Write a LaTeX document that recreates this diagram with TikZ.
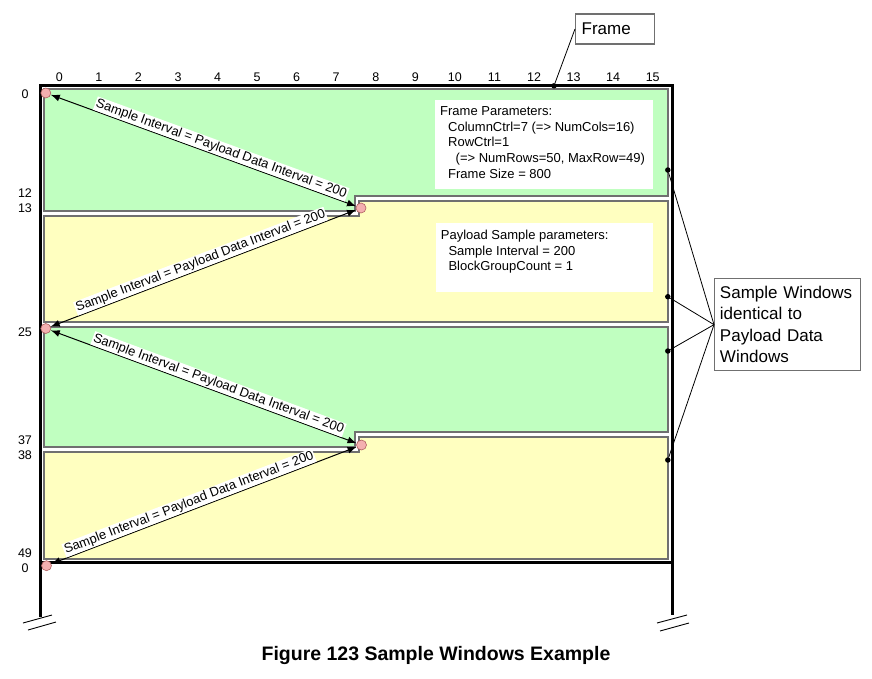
\documentclass[tikz,border=0pt]{standalone}
\usepackage{fontspec}
\setmainfont{Liberation Sans}
\usetikzlibrary{arrows.meta}

\definecolor{wingreen}{RGB}{192,255,192}
\definecolor{winyellow}{RGB}{255,255,192}
\definecolor{winedge}{RGB}{112,112,112}
\definecolor{dotfill}{RGB}{244,176,176}
\definecolor{dotedge}{RGB}{176,96,96}

\begin{document}
\begin{tikzpicture}[x=1pt,y=1pt,
  framebar/.style={line width=3pt, black},
  window/.style={draw=winedge, line width=1.8pt},
  endpoint/.style={circle, minimum size=10pt, inner sep=0pt, fill=dotfill, draw=dotedge, line width=0.6pt},
  interval/.style={{Latex[length=9pt,width=7pt]}-{Latex[length=9pt,width=7pt]}, line width=1pt},
  intlabel/.style={sloped, above, fill=white, inner sep=1pt, font=\fontsize{13}{15}\selectfont},
  idx/.style={font=\fontsize{12.5}{14}\selectfont, inner sep=0pt},
  pin/.style={circle, fill=black, minimum size=5.5pt, inner sep=0pt},
  callout/.style={draw=winedge, line width=1.3pt, fill=white, anchor=north west,
    font=\fontsize{17}{21.5}\selectfont, align=left},
  leader/.style={line width=0.8pt},
  parambox/.style={fill=white, anchor=north west, inner sep=0pt},
  paramtext/.style={anchor=north west, align=left, inner sep=0pt, font=\fontsize{13}{15.6}\selectfont},
  hatch/.style={line width=0.9pt},
]
\useasboundingbox (0,0) rectangle (872,-678);

% sample windows
\path[window, fill=wingreen] (44.3,-89.3) -- (667.8,-89.3) -- (667.8,-196) -- (355,-196)
  -- (355,-211) -- (44.3,-211) -- cycle;
\path[window, fill=winyellow] (44.3,-216) -- (359,-216) -- (359,-201) -- (667.8,-201)
  -- (667.8,-322) -- (44.3,-322) -- cycle;
\path[window, fill=wingreen] (44.3,-327) -- (667.8,-327) -- (667.8,-432) -- (355,-432)
  -- (355,-447) -- (44.3,-447) -- cycle;
\path[window, fill=winyellow] (44.3,-452) -- (359,-452) -- (359,-437) -- (667.8,-437)
  -- (667.8,-558.8) -- (44.3,-558.8) -- cycle;

% frame with its legs
\draw[framebar] (40.7,-617) -- (40.7,-85.8) -- (672.3,-85.8) -- (672.3,-615);
\draw[framebar] (40.7,-562.8) -- (672.3,-562.8);
\draw[hatch] (23,-623) -- (52,-615);
\draw[hatch] (28,-630) -- (56,-622);
\draw[hatch] (657,-623) -- (687,-615);
\draw[hatch] (660,-631) -- (689,-623);

% column indices
\foreach \c in {0,...,15}
  \node[idx] (col\c) at ({59.3+39.56*\c},-77.3) {\c};
% row indices
\foreach \n/\t/\y in {ra/0/93.8, rb/12/192.7, rc/13/208, rd/25/331.7,
                      re/37/440, rf/38/455, rg/49/553, rh/0/568}
  \node[idx] (\n) at (25,-\y) {\t};

% parameter boxes
\node[parambox, minimum width=218.5pt, minimum height=88.5pt] (fpbox) at (434.3,-100) {};
\node[paramtext] (fptext) at (440,-106.5)
  {Frame Parameters:\\
   \hspace*{8pt}ColumnCtrl=7 (=> NumCols=16)\\
   \hspace*{8pt}RowCtrl=1\\
   \hspace*{15.5pt}(=> NumRows=50, MaxRow=49)\\
   \hspace*{8pt}Frame Size = 800};
\node[parambox, minimum width=217pt, minimum height=69pt] (psbox) at (436,-223) {};
\node[paramtext] (pstext) at (440.7,-230)
  {Payload Sample parameters:\\
   \hspace*{7.6pt}Sample Interval = 200\\
   \hspace*{7.6pt}BlockGroupCount = 1};

% window start points
\node[endpoint] (s0) at (45.8,-93) {};
\node[endpoint] (s1) at (361,-208) {};
\node[endpoint] (s2) at (45.8,-328.5) {};
\node[endpoint] (s3) at (361.5,-445) {};
\node[endpoint] (s4) at (46.5,-565.7) {};

% sample intervals
\draw[interval] (s0) -- node[intlabel, pos=0.55] {Sample Interval = Payload Data Interval = 200} (s1);
\draw[interval] (s2) -- node[intlabel, pos=0.5] {Sample Interval = Payload Data Interval = 200} (s1);
\draw[interval] (s2) -- node[intlabel, pos=0.54] {Sample Interval = Payload Data Interval = 200} (s3);
\draw[interval] (s4) -- node[intlabel, pos=0.46] {Sample Interval = Payload Data Interval = 200} (s3);

% callouts
\node[callout, minimum height=30pt, text width=67pt, inner xsep=6pt, inner ysep=0pt] (fbox) at (575,-13.3) {Frame};
\node[pin] (fpin) at (554,-85.8) {};
\draw[leader] (fbox.west) -- (fpin);

\node[callout, minimum height=92pt, text width=135.4pt, inner xsep=5.3pt, inner ysep=0pt] (swbox) at (714,-278)
  {Sample Windows\\identical to\\Payload Data\\Windows};
\node[pin] (w0) at (667.8,-170) {};
\node[pin] (w1) at (667.8,-296.7) {};
\node[pin] (w2) at (667.8,-351) {};
\node[pin] (w3) at (667.8,-460) {};
\foreach \p in {w0,w1,w2,w3}
  \draw[leader] (swbox.west) -- (\p);

% caption
\node[font=\fontsize{19.5}{22}\selectfont\bfseries, inner sep=0pt] (caption) at (436,-655)
  {Figure 123 Sample Windows Example};
\end{tikzpicture}
\end{document}
